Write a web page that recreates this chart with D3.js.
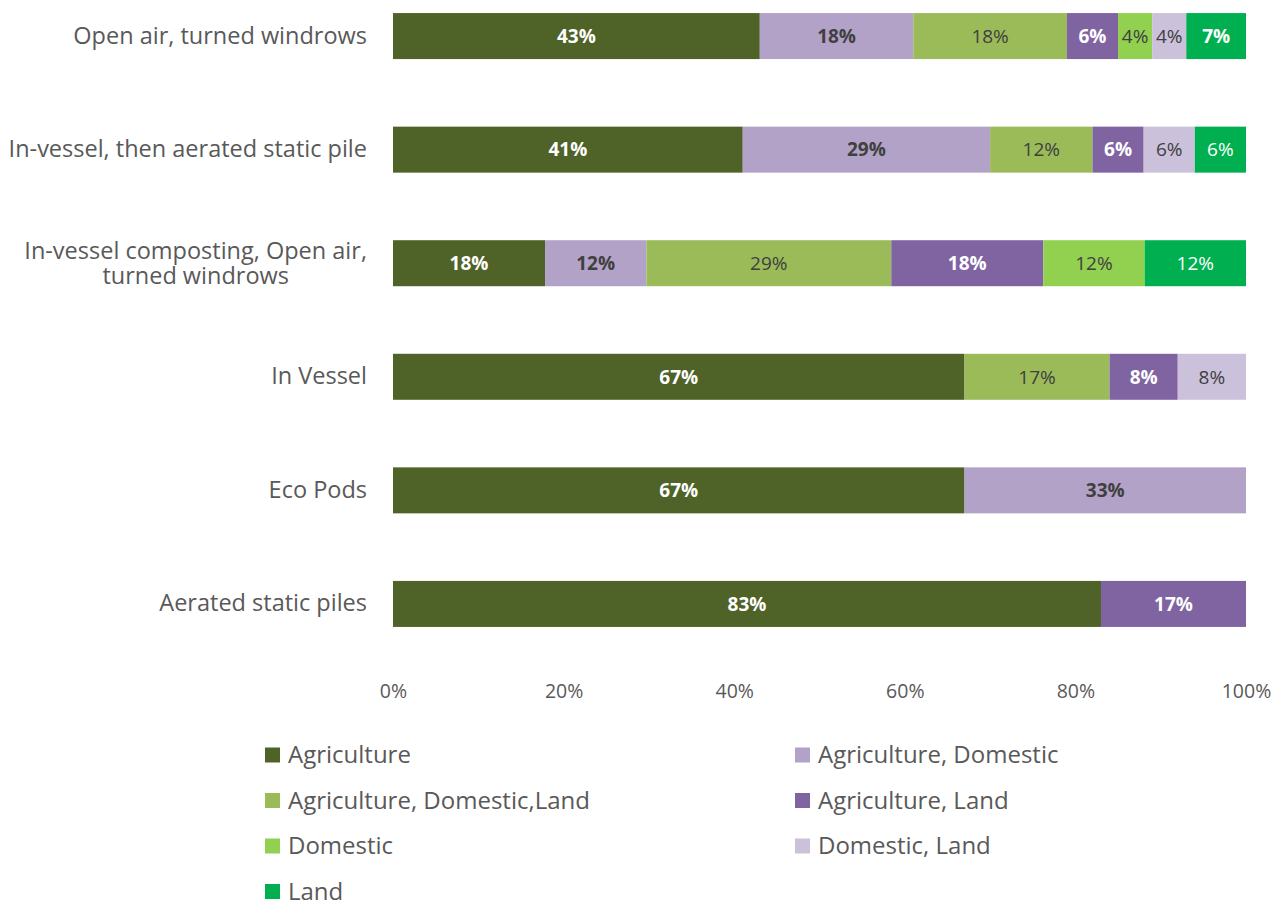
<!DOCTYPE html>
<html>
<head>
<meta charset="utf-8">
<script src="https://cdn.jsdelivr.net/npm/d3@7"></script>
<style>
  html, body { margin: 0; padding: 0; background: #fff; }
  svg { display: block; }
</style>
</head>
<body>
<svg id="chart" width="1282" height="906"></svg>
<script>
// Composting methods (top to bottom)
const methods = [
  "Open air, turned windrows",
  "In-vessel, then aerated static pile",
  "In-vessel composting, Open air, turned windrows",
  "In Vessel",
  "Eco Pods",
  "Aerated static piles"
];

// Feedstock source groups, in stacking order
const sources = [
  "Agriculture",
  "Agriculture, Domestic",
  "Agriculture, Domestic,Land",
  "Agriculture, Land",
  "Domestic",
  "Domestic, Land",
  "Land"
];

const sourceColors = ["#4F6228", "#B3A2C7", "#9BBB59", "#8064A2", "#92D050", "#CCC1DA", "#00B050"];

// Share (%) of each source per method, one array per source
const agriculture         = [43, 41, 18, 67, 67, 83];
const agricultureDomestic = [18, 29, 12,  0, 33,  0];
const agriDomesticLand    = [18, 12, 29, 17,  0,  0];
const agricultureLand     = [ 6,  6, 18,  8,  0, 17];
const domestic            = [ 4,  0, 12,  0,  0,  0];
const domesticLand        = [ 4,  6,  0,  8,  0,  0];
const land                = [ 7,  6, 12,  0,  0,  0];

const tickValues = [0, 0.2, 0.4, 0.6, 0.8, 1];

const seriesValues = [agriculture, agricultureDomestic, agriDomesticLand, agricultureLand, domestic, domesticLand, land];

// label styling per source: fill colour and weight
const labelFill   = ["#fff", "#404040", "#404040", "#fff", "#404040", "#404040", "#fff"];
const labelWeight = ["bold", "bold", "normal", "bold", "normal", "normal", "normal"];

const rows = methods.map((m, i) => {
  const r = { method: m };
  sources.forEach((s, j) => r[s] = seriesValues[j][i]);
  return r;
});

const svg = d3.select("#chart");
const plotLeft = 393, plotRight = 1246;

const x = d3.scaleLinear().domain([0, 1]).range([plotLeft, plotRight]);
const y = d3.scaleBand().domain(methods).range([-21, 661]).paddingInner(0.595).paddingOuter(0.3);

const stack = d3.stack().keys(sources).offset(d3.stackOffsetExpand);
const layers = stack(rows);

const font = "'Open Sans', sans-serif";
const textGrey = "#595959";

const g = svg.append("g");

layers.forEach((layer, j) => {
  const segs = layer.filter(d => d[1] > d[0]);
  const lg = g.append("g").attr("fill", sourceColors[j]);
  lg.selectAll("rect")
    .data(segs)
    .join("rect")
    .attr("x", d => x(d[0]))
    .attr("y", d => y(d.data.method))
    .attr("width", d => x(d[1]) - x(d[0]))
    .attr("height", y.bandwidth());

  lg.selectAll("text")
    .data(segs)
    .join("text")
    .attr("x", d => (x(d[0]) + x(d[1])) / 2)
    .attr("y", d => y(d.data.method) + y.bandwidth() / 2)
    .attr("dy", "0.36em")
    .attr("text-anchor", "middle")
    .attr("fill", labelFill[j])
    .attr("font-family", font)
    .attr("font-size", 19)
    .attr("font-weight", d => (sources[j] === "Land" && d.data.method === methods[0]) ? "bold" : labelWeight[j])
    .text(d => d.data[sources[j]] + "%");
});

// category axis (labels only)
const labelPad = 26;
const yAxis = d3.axisLeft(y).tickSize(0).tickPadding(labelPad);
const ya = svg.append("g").attr("transform", `translate(${plotLeft},0)`).call(yAxis);
ya.select(".domain").remove();
ya.selectAll(".tick text")
  .attr("font-family", font)
  .attr("font-size", 23.5)
  .attr("fill", textGrey)
  .each(function(d) {
    if (d === methods[2]) {
      // wrap the long label onto two centred lines
      const t = d3.select(this).text(null).attr("text-anchor", "middle");
      const l1 = t.append("tspan").attr("dy", "-0.2em").text("In-vessel composting, Open air,");
      const w = l1.node().getComputedTextLength();
      const cx = -labelPad - w / 2;
      l1.attr("x", cx);
      t.append("tspan").attr("x", cx).attr("dy", "1.1em").text("turned windrows");
    }
  });

// percentage axis
const xAxis = d3.axisBottom(x).tickValues(tickValues).tickSize(0).tickPadding(0).tickFormat(d3.format(".0%"));
const xa = svg.append("g").attr("transform", "translate(0,684)").call(xAxis);
xa.select(".domain").remove();
xa.selectAll(".tick text")
  .attr("font-family", font)
  .attr("font-size", 19.5)
  .attr("fill", textGrey);

// legend, two columns
const legend = svg.append("g");
const legendCols = [265, 795];
sources.forEach((s, j) => {
  const col = j % 2, row = Math.floor(j / 2);
  const lx = legendCols[col], ly = 755 + row * 45.5;
  legend.append("rect").attr("x", lx).attr("y", ly - 7.5).attr("width", 15).attr("height", 15).attr("fill", sourceColors[j]);
  legend.append("text").attr("x", lx + 23).attr("y", ly).attr("dy", "0.34em")
    .attr("font-family", font).attr("font-size", 24).attr("fill", textGrey).text(s);
});
</script>
</body>
</html>
